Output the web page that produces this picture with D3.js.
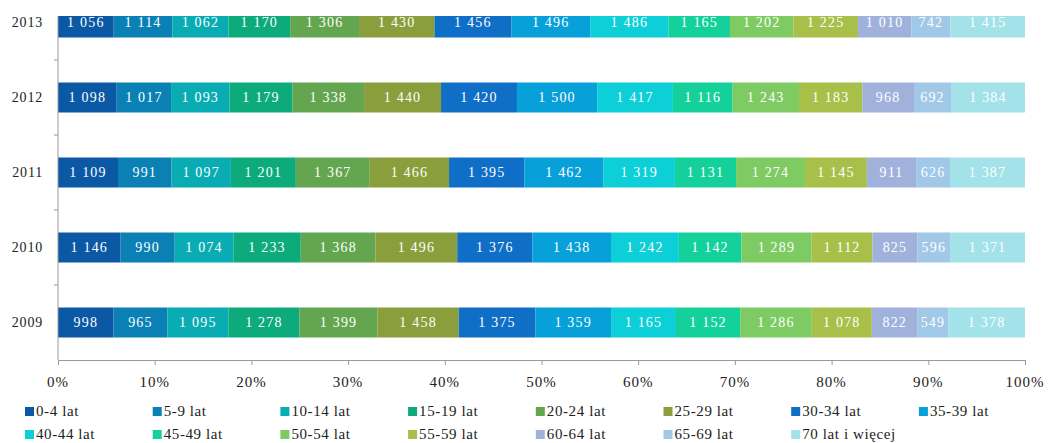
<!DOCTYPE html>
<html lang="pl">
  <head>
    <meta charset="utf-8" />
    <title>Struktura wieku 2009-2013</title>
    <script src="https://d3js.org/d3.v7.min.js"></script>
    <style>
      body { margin: 0; background: #fff; }
      svg { display: block; font-family: "Liberation Serif", "Times New Roman", serif; }
      .axis path, .axis line { stroke: #9a9a9a; }
      .val { fill: #fff; font-size: 14px; letter-spacing: 1.2px; text-anchor: middle; dominant-baseline: central; }
      .year { fill: #222; font-size: 14px; letter-spacing: 0.8px; text-anchor: end; dominant-baseline: central; }
      .pct { fill: #222; font-size: 15px; letter-spacing: 1px; text-anchor: middle; }
      .leg { fill: #222; font-size: 15px; letter-spacing: 0.6px; dominant-baseline: central; }
    </style>
  </head>
  <body>
    <svg id="chart" width="1048" height="443"></svg>
    <script>
      // ---- data ----
      const years = ["2013", "2012", "2011", "2010", "2009"];
      const groups = ["0-4 lat", "5-9 lat", "10-14 lat", "15-19 lat", "20-24 lat", "25-29 lat",
        "30-34 lat", "35-39 lat", "40-44 lat", "45-49 lat", "50-54 lat", "55-59 lat",
        "60-64 lat", "65-69 lat", "70 lat i więcej"];
      const colors = ["#0b58a4", "#0a80b4", "#0aacb4", "#0daa7c", "#63a64f", "#8a9e3c",
        "#0f6ec6", "#07a0d8", "#0ccfd8", "#14d19b", "#7ecb63", "#a8c04a",
        "#a0b2dc", "#a2c8e8", "#a2e2e8"];
      const v2013 = [1056, 1114, 1062, 1170, 1306, 1430, 1456, 1496, 1486, 1165, 1202, 1225, 1010, 742, 1415];
      const v2012 = [1098, 1017, 1093, 1179, 1338, 1440, 1420, 1500, 1417, 1116, 1243, 1183, 968, 692, 1384];
      const v2011 = [1109, 991, 1097, 1201, 1367, 1466, 1395, 1462, 1319, 1131, 1274, 1145, 911, 626, 1387];
      const v2010 = [1146, 990, 1074, 1233, 1368, 1496, 1376, 1438, 1242, 1142, 1289, 1112, 825, 596, 1371];
      const v2009 = [998, 965, 1095, 1278, 1399, 1458, 1375, 1359, 1165, 1152, 1286, 1078, 822, 549, 1378];
      const tickValues = [0, 0.1, 0.2, 0.3, 0.4, 0.5, 0.6, 0.7, 0.8, 0.9, 1];

      const valuesByYear = { "2013": v2013, "2012": v2012, "2011": v2011, "2010": v2010, "2009": v2009 };

      // ---- layout ----
      const svg = d3.select("#chart");
      const plotLeft = 58, plotRight = 1025, plotBottom = 360, plotTop = -15, clipTop = 16;

      const x = d3.scaleLinear().domain([0, 1]).range([plotLeft, plotRight]);
      const y = d3.scaleBand().domain(years).range([plotTop, plotBottom])
        .paddingInner(0.6).paddingOuter(0.3);

      const fmt = d3.formatLocale({ decimal: ",", thousands: " ", grouping: [3], currency: ["", " zł"] }).format(",d");

      svg.append("clipPath").attr("id", "clip")
        .append("rect").attr("x", 0).attr("y", clipTop).attr("width", 1048).attr("height", 443 - clipTop);

      const plot = svg.append("g").attr("clip-path", "url(#clip)");

      // stacked rows, each normalised to 100%
      const rows = years.map((yr) => {
        const vals = valuesByYear[yr];
        const total = d3.sum(vals);
        let acc = 0;
        return vals.map((v, i) => {
          const s = { year: yr, i: i, value: v, x0: acc / total, x1: (acc + v) / total };
          acc += v;
          return s;
        });
      });

      const seg = plot.selectAll("g.row").data(rows).enter().append("g").attr("class", "row")
        .selectAll("g.seg").data((d) => d).enter().append("g").attr("class", "seg");

      seg.append("rect")
        .attr("x", (d) => x(d.x0))
        .attr("y", (d) => y(d.year))
        .attr("width", (d) => x(d.x1) - x(d.x0))
        .attr("height", y.bandwidth())
        .attr("fill", (d) => colors[d.i]);

      seg.append("text").attr("class", "val")
        .attr("x", (d) => (x(d.x0) + x(d.x1)) / 2)
        .attr("y", (d) => y(d.year) + y.bandwidth() / 2)
        .text((d) => fmt(d.value));

      // y axis: line + ticks at band boundaries
      const yAxis = plot.append("g").attr("class", "axis");
      yAxis.append("line").attr("x1", plotLeft).attr("x2", plotLeft).attr("y1", plotTop).attr("y2", plotBottom);
      const bounds = years.map((yr) => y(yr) - y.step() * y.paddingInner() / 2);
      yAxis.selectAll("line.tk").data(bounds).enter().append("line").attr("class", "tk")
        .attr("x1", plotLeft - 4).attr("x2", plotLeft).attr("y1", (d) => d).attr("y2", (d) => d);

      plot.selectAll("text.year").data(years).enter().append("text").attr("class", "year")
        .attr("x", plotLeft - 15)
        .attr("y", (d) => y(d) + y.bandwidth() / 2)
        .text((d) => d);

      // x axis
      const xAxis = svg.append("g").attr("class", "axis")
        .attr("transform", `translate(0,${plotBottom})`)
        .call(d3.axisBottom(x).tickValues(tickValues).tickSizeInner(5).tickSizeOuter(0).tickFormat(""));
      xAxis.select(".domain").attr("stroke", "#9a9a9a");

      svg.selectAll("text.pct").data(tickValues).enter().append("text").attr("class", "pct")
        .attr("x", (d) => x(d))
        .attr("y", 387)
        .text((d) => Math.round(d * 100) + "%");

      // legend
      const legend = svg.append("g");
      const leg = legend.selectAll("g").data(groups).enter().append("g")
        .attr("transform", (d, i) => `translate(${25 + (i % 8) * 127.7},${i < 8 ? 411 : 434})`);
      leg.append("rect").attr("x", 0).attr("y", -4).attr("width", 9).attr("height", 9)
        .attr("fill", (d, i) => colors[i]);
      leg.append("text").attr("class", "leg").attr("x", 11).attr("y", 0).text((d) => d);
    </script>
  </body>
</html>
